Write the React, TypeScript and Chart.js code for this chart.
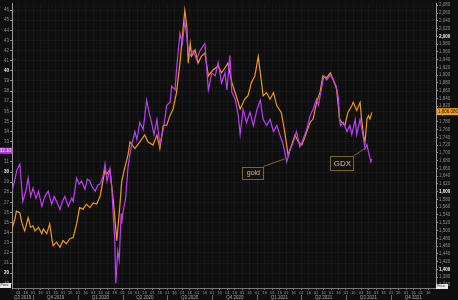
import { useEffect, useRef } from "react";
import { Chart, registerables } from "chart.js";
Chart.register(...registerables);

const gdxDates = ["2019-08-19","2019-08-25","2019-08-29","2019-09-04","2019-09-10","2019-09-16","2019-09-21","2019-09-26","2019-10-01","2019-10-07","2019-10-12","2019-10-19","2019-10-25","2019-11-01","2019-11-08","2019-11-13","2019-11-18","2019-11-25","2019-11-30","2019-12-05","2019-12-12","2019-12-19","2019-12-22","2019-12-29","2020-01-03","2020-01-08","2020-01-15","2020-01-20","2020-01-25","2020-01-30","2020-02-05","2020-02-10","2020-02-15","2020-02-21","2020-02-25","2020-02-29","2020-03-06","2020-03-10","2020-03-13","2020-03-16","2020-03-18","2020-03-22","2020-03-25","2020-03-29","2020-03-30","2020-04-02","2020-04-07","2020-04-12","2020-04-16","2020-04-20","2020-04-26","2020-04-30","2020-05-06","2020-05-13","2020-05-20","2020-05-25","2020-05-30","2020-06-04","2020-06-10","2020-06-16","2020-06-23","2020-06-30","2020-07-07","2020-07-10","2020-07-17","2020-07-20","2020-07-27","2020-08-01","2020-08-06","2020-08-10","2020-08-13","2020-08-17","2020-08-23","2020-08-30","2020-09-06","2020-09-13","2020-09-16","2020-09-23","2020-09-30","2020-10-07","2020-10-13","2020-10-20","2020-10-27","2020-10-31","2020-11-06","2020-11-10","2020-11-17","2020-11-23","2020-11-27","2020-12-03","2020-12-10","2020-12-17","2020-12-24","2020-12-31","2021-01-07","2021-01-13","2021-01-20","2021-01-27","2021-02-03","2021-02-10","2021-02-16","2021-02-23","2021-03-02","2021-03-09","2021-03-16","2021-03-22","2021-03-29","2021-04-05","2021-04-12","2021-04-19","2021-04-25","2021-05-02","2021-05-06","2021-05-13","2021-05-17","2021-05-23","2021-05-30","2021-06-05","2021-06-11","2021-06-16","2021-06-18","2021-06-20","2021-06-26","2021-07-03","2021-07-09","2021-07-13","2021-07-20","2021-07-23","2021-07-30","2021-08-06","2021-08-09","2021-08-13","2021-08-16","2021-08-21","2021-08-23"];
const gdxValues = [28.1,29.3,30.2,30.8,27.1,28.1,29.4,27.6,28.4,27.4,28.1,26.6,27.6,28.1,26.8,27.6,27.1,26.3,27.1,27.6,26.6,27.4,27.1,29.4,28.8,29.1,28.3,29.3,29.1,28.5,28.1,28.7,28.8,29.6,30.8,29.1,30.3,28.3,25.5,23.2,19.0,22.2,21.3,25.9,24.9,26.1,27.4,30.5,31.8,32.8,34.0,33.2,34.9,34.2,37.1,35.9,34.9,33.7,35.2,32.7,34.2,36.6,36.9,38.5,38.1,40.1,43.7,42.7,44.9,43.4,42.0,41.5,42.0,41.1,42.0,42.5,42.7,38.1,39.8,39.5,40.8,38.8,39.8,38.1,41.5,37.9,37.2,35.6,33.7,36.2,34.9,35.9,34.6,36.1,37.1,35.2,34.6,35.2,34.0,34.6,33.7,32.7,31.0,32.2,33.0,34.0,32.5,33.3,34.2,35.6,36.2,37.2,36.6,38.5,39.5,39.1,39.6,39.1,38.5,37.2,35.2,34.6,34.9,34.0,34.6,33.7,35.2,33.7,35.2,33.3,32.3,32.7,32.0,31.0,31.3];

const goldDates = ["2019-08-19","2019-08-25","2019-08-28","2019-09-04","2019-09-08","2019-09-11","2019-09-14","2019-09-21","2019-09-26","2019-10-01","2019-10-05","2019-10-12","2019-10-19","2019-10-22","2019-10-29","2019-11-04","2019-11-08","2019-11-11","2019-11-18","2019-11-25","2019-12-01","2019-12-08","2019-12-15","2019-12-22","2019-12-29","2020-01-04","2020-01-11","2020-01-18","2020-01-25","2020-02-01","2020-02-08","2020-02-15","2020-02-18","2020-02-25","2020-02-28","2020-03-06","2020-03-13","2020-03-20","2020-03-26","2020-03-30","2020-04-05","2020-04-12","2020-04-16","2020-04-26","2020-05-06","2020-05-16","2020-05-23","2020-06-02","2020-06-10","2020-06-16","2020-06-23","2020-06-30","2020-07-07","2020-07-13","2020-07-20","2020-07-27","2020-08-01","2020-08-06","2020-08-10","2020-08-13","2020-08-17","2020-08-20","2020-08-27","2020-09-02","2020-09-09","2020-09-16","2020-09-23","2020-10-03","2020-10-13","2020-10-20","2020-10-27","2020-11-02","2020-11-10","2020-11-19","2020-11-27","2020-12-06","2020-12-13","2020-12-20","2020-12-27","2021-01-03","2021-01-08","2021-01-13","2021-01-20","2021-01-27","2021-02-03","2021-02-10","2021-02-19","2021-02-26","2021-03-05","2021-03-12","2021-03-19","2021-03-26","2021-04-02","2021-04-12","2021-04-19","2021-04-25","2021-05-02","2021-05-09","2021-05-15","2021-05-23","2021-05-30","2021-06-05","2021-06-12","2021-06-18","2021-06-22","2021-06-29","2021-07-05","2021-07-13","2021-07-16","2021-07-23","2021-07-30","2021-08-02","2021-08-06","2021-08-09","2021-08-13","2021-08-16","2021-08-19","2021-08-23"];
const goldValues = [1504,1530,1550,1546,1521,1508,1499,1533,1508,1512,1499,1508,1492,1504,1492,1517,1482,1461,1470,1457,1474,1466,1479,1482,1517,1559,1555,1568,1559,1571,1568,1588,1609,1657,1644,1657,1576,1474,1559,1626,1660,1695,1728,1711,1728,1746,1728,1720,1746,1711,1771,1771,1797,1813,1855,1931,2000,2067,2025,1931,1982,1949,1965,1931,1949,1957,1898,1914,1923,1906,1919,1931,1881,1847,1813,1838,1847,1881,1898,1948,1898,1847,1855,1838,1855,1821,1804,1754,1694,1720,1746,1728,1720,1754,1779,1787,1830,1855,1898,1893,1906,1889,1864,1787,1779,1771,1804,1821,1830,1809,1830,1787,1745,1728,1787,1796,1787,1804];

const quarterLabels = ["Q3 2019","Q4 2019","Q1 2020","Q2 2020","Q3 2020","Q4 2020","Q1 2021","Q2 2021","Q3 2021","Q4 2021"];
const quarterStarts = ["2019-07-01","2019-10-01","2020-01-01","2020-04-01","2020-07-01","2020-10-01","2021-01-01","2021-04-01","2021-07-01","2021-10-01","2022-01-01"];
const axisStart = "2019-08-19";
const axisEnd = "2022-01-01";
const gdxRange = [18.54, 46.63];
const goldRange = [1352, 2084];
const gdxTag = 32.1;
const goldTag = 1806;
const goldTagText = "1,806.0800";
const gdxTagText = "32.10";
const notes = [
  { text: "gold", date: "2020-12-23", value: 29.95, w: 21, h: 12, size: 7, target: "2021-02-26", targetValue: 31.3 },
  { text: "GDX", date: "2021-06-23", value: 30.9, w: 23, h: 14, size: 8, target: "2021-08-11", targetValue: 32.4 },
];

const START = Date.UTC(2019, 7, 19);
const dayOf = (s: string) => {
  const [y, m, d] = s.split("-").map(Number);
  return (Date.UTC(y, m - 1, d) - START) / 86400000;
};

const FONT = "'Liberation Sans', Arial, sans-serif";

export default function App() {
  const ref = useRef<HTMLCanvasElement | null>(null);
  useEffect(() => {
    document.body.style.margin = "0";
    document.body.style.background = "#0f0f0f";
    const xMin = dayOf(axisStart);
    const xMax = dayOf(axisEnd);
    const semiTicks: { value: number; label: string }[] = [];
    for (let y = 2019; y <= 2021; y++) {
      for (let m = 1; m <= 12; m++) {
        for (const d of [1, 16]) {
          const s = `${y}-${String(m).padStart(2, "0")}-${String(d).padStart(2, "0")}`;
          const v = dayOf(s);
          if (v > xMin && v < xMax) semiTicks.push({ value: v, label: String(d).padStart(2, "0") });
        }
      }
    }
    const qCenters = quarterLabels.map((_, i) => {
      const a = Math.max(dayOf(quarterStarts[i]), xMin);
      const b = Math.min(dayOf(quarterStarts[i + 1]), xMax);
      return (a + b) / 2;
    });

    const bgPlugin = {
      id: "bg",
      beforeDraw(chart: any) {
        const c = chart.ctx;
        c.save();
        c.fillStyle = "#0f0f0f";
        c.fillRect(0, 0, chart.width, chart.height);
        c.restore();
      },
    };
    const decoPlugin = {
      id: "deco",
      afterDraw(chart: any) {
        const c = chart.ctx;
        const x = chart.scales.x;
        const yL = chart.scales.yL;
        const yR = chart.scales.yR;
        const xq = chart.scales.xq;
        c.save();
        c.strokeStyle = "#666";
        c.lineWidth = 1;
        for (let i = 1; i < quarterStarts.length - 1; i++) {
          const px = Math.round(x.getPixelForValue(dayOf(quarterStarts[i]))) + 0.5;
          c.beginPath();
          c.moveTo(px, xq.top);
          c.lineTo(px, xq.bottom);
          c.stroke();
        }
        for (const n of notes) {
          const cx = x.getPixelForValue(dayOf(n.date));
          const cy = yL.getPixelForValue(n.value);
          const tx = x.getPixelForValue(dayOf(n.target));
          const ty = yL.getPixelForValue(n.targetValue);
          const l = cx - n.w / 2, t = cy - n.h / 2;
          c.fillStyle = "#121110";
          c.fillRect(l, t, n.w, n.h);
          c.strokeStyle = "#7d6233";
          c.lineWidth = 1;
          c.strokeRect(Math.round(l) + 0.5, Math.round(t) + 0.5, n.w, n.h);
          c.beginPath();
          c.moveTo(l + n.w, t);
          c.lineTo(tx, ty);
          c.stroke();
          c.fillStyle = "#e9b871";
          c.font = `${n.size}px ${FONT}`;
          c.textAlign = "center";
          c.textBaseline = "middle";
          c.fillText(n.text, cx + 0.5, cy + 1);
        }
        const gy = yR.getPixelForValue(goldTag);
        c.fillStyle = "#f0a024";
        c.fillRect(yR.left + 1, gy - 3.5, chart.width - yR.left - 1, 7);
        c.fillStyle = "#201000";
        c.font = `4.5px ${FONT}`;
        c.textAlign = "left";
        c.textBaseline = "middle";
        c.fillText(goldTagText, yR.left + 2, gy + 0.3);
        const py = yL.getPixelForValue(gdxTag);
        c.fillStyle = "#b43ee8";
        c.fillRect(0, py - 3, yL.right, 6);
        c.fillStyle = "#f4e6ff";
        c.textAlign = "right";
        c.fillText(gdxTagText, yL.right - 1, py + 0.3);
        c.fillStyle = "#e8e8e8";
        c.fillRect(0, chart.chartArea.bottom - 5, yL.right - 1, 5);
        c.fillRect(yR.left, chart.chartArea.bottom - 4, 12, 5);
        c.fillStyle = "#222";
        c.font = `3.5px ${FONT}`;
        c.textAlign = "left";
        c.fillText("Price", 0.5, chart.chartArea.bottom - 2.5);
        c.fillText("Price", yR.left + 1, chart.chartArea.bottom - 1.5);
        c.restore();
      },
    };

    const tickColor = (bold: boolean) => (bold ? "#f2f2f2" : "#8e8e8e");
    const chart = new Chart(ref.current!, {
      type: "line",
      data: {
        datasets: [
          {
            label: "GDX",
            data: gdxDates.map((d, i) => ({ x: dayOf(d), y: gdxValues[i] })),
            yAxisID: "yL",
            xAxisID: "x",
            borderColor: "#bc3ff2",
            borderWidth: 1.2,
            pointRadius: 0,
            tension: 0,
          },
          {
            label: "gold",
            data: goldDates.map((d, i) => ({ x: dayOf(d), y: goldValues[i] })),
            yAxisID: "yR",
            xAxisID: "x",
            borderColor: "#ef9a1e",
            borderWidth: 1.2,
            pointRadius: 0,
            tension: 0,
          },
        ],
      },
      options: {
        responsive: false,
        animation: false,
        devicePixelRatio: 1,
        layout: { padding: 0 },
        plugins: { legend: { display: false }, tooltip: { enabled: false } },
        scales: {
          x: {
            type: "linear",
            position: "bottom",
            weight: 0,
            min: xMin,
            max: xMax,
            afterBuildTicks: (s: any) => {
              s.ticks = semiTicks.map((t) => ({ value: t.value }));
            },
            afterFit: (s: any) => {
              s.height = 7;
            },
            ticks: {
              autoSkip: false,
              maxRotation: 0,
              padding: 0,
              color: "#9a9a9a",
              font: { size: 4, family: FONT },
              callback: (_v: any, i: number) => semiTicks[i]?.label ?? "",
            },
            grid: { color: "rgba(255,255,255,0.035)", tickColor: "#777", tickLength: 2 },
            border: { color: "#777" },
          },
          xq: {
            type: "linear",
            position: "bottom",
            weight: 1,
            min: xMin,
            max: xMax,
            afterBuildTicks: (s: any) => {
              s.ticks = qCenters.map((v) => ({ value: v }));
            },
            afterFit: (s: any) => {
              s.height = 5;
            },
            ticks: {
              autoSkip: false,
              maxRotation: 0,
              padding: 0,
              color: "#a8a8a8",
              font: { size: 4.5, family: FONT },
              callback: (_v: any, i: number) => quarterLabels[i] ?? "",
            },
            grid: { display: false, drawTicks: false },
            border: { display: false },
          },
          yL: {
            type: "linear",
            position: "left",
            min: gdxRange[0],
            max: gdxRange[1],
            afterFit: (s: any) => {
              s.width = 12;
            },
            ticks: {
              stepSize: 1,
              includeBounds: false,
              autoSkip: false,
              padding: 1,
              font: (ctx: any) => ({ size: 4.5, family: FONT, weight: ctx.tick && ctx.tick.value % 10 === 0 ? "bold" : "normal" }),
              color: (ctx: any) => tickColor(!!ctx.tick && ctx.tick.value % 10 === 0),
            },
            grid: { color: "rgba(255,255,255,0.035)", tickColor: "#888", tickLength: 2 },
            border: { color: "#9a9a9a" },
          },
          yR: {
            type: "linear",
            position: "right",
            min: goldRange[0],
            max: goldRange[1],
            afterFit: (s: any) => {
              s.width = 22;
            },
            ticks: {
              stepSize: 20,
              includeBounds: false,
              autoSkip: false,
              padding: 1,
              font: (ctx: any) => ({ size: 4.5, family: FONT, weight: ctx.tick && ctx.tick.value % 200 === 0 ? "bold" : "normal" }),
              color: (ctx: any) => tickColor(!!ctx.tick && ctx.tick.value % 200 === 0),
              callback: (v: any) => Number(v).toLocaleString("en-US"),
            },
            grid: { drawOnChartArea: false, tickColor: "#888", tickLength: 2 },
            border: { color: "#9a9a9a" },
          },
        },
      },
      plugins: [bgPlugin, decoPlugin],
    } as any);
    return () => chart.destroy();
  }, []);
  return (
    <div style={{ width: 458, height: 300 }}>
      <canvas ref={ref} width={458} height={300} style={{ display: "block" }} />
    </div>
  );
}
